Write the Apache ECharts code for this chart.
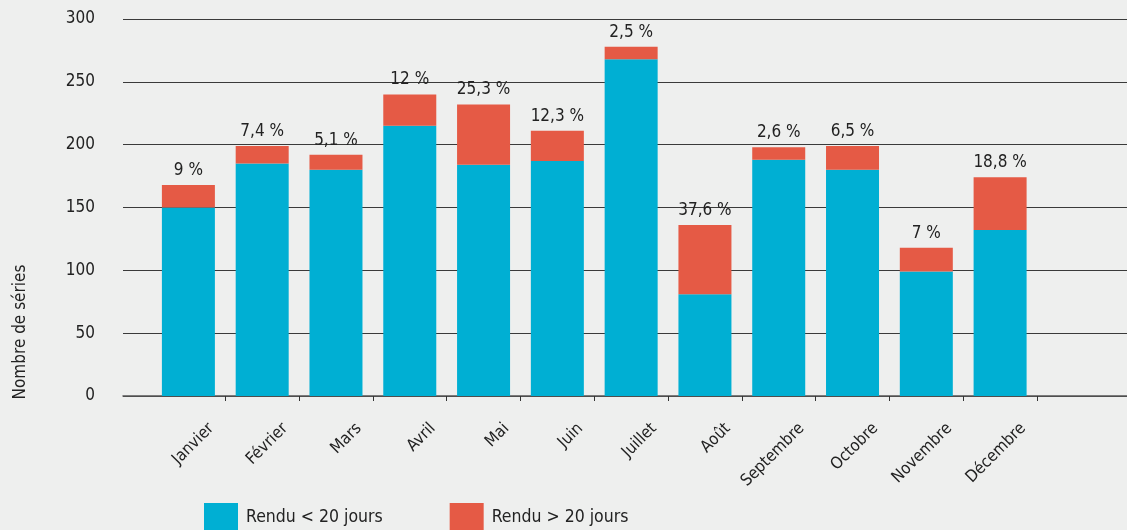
<!DOCTYPE html>
<html>
<head>
<meta charset="utf-8">
<script src="https://cdn.jsdelivr.net/npm/echarts@6/dist/echarts.min.js"></script>
<style>
  html, body { margin: 0; padding: 0; background: #eeefee; }
  #chart { width: 1127px; height: 530px; }
</style>
</head>
<body>
<div id="chart"></div>
<script>
// données
var mois = ['Janvier', 'Février', 'Mars', 'Avril', 'Mai', 'Juin', 'Juillet', 'Août', 'Septembre', 'Octobre', 'Novembre', 'Décembre'];
var renduMoins20 = [150, 185, 180, 215, 184, 187, 268, 81, 188, 180, 99, 132];
var renduPlus20 = [18, 14, 12, 25, 48, 24, 10, 55, 10, 19, 19, 42];
var partPlus20 = ['9 %', '7,4 %', '5,1 %', '12 %', '25,3 %', '12,3 %', '2,5 %', '37,6 %', '2,6 %', '6,5 %', '7 %', '18,8 %'];
var yTicks = [0, 50, 100, 150, 200, 250, 300];

var police = "'DejaVu Sans Condensed', 'Liberation Sans Narrow', sans-serif";
var texte = '#222';

var chart = echarts.init(document.getElementById('chart'));

var option = {
    backgroundColor: '#eeefee',
    animation: false,
    textStyle: { fontFamily: police, color: texte },
    // grille 0 : lignes horizontales + axe Y, grille 1 : barres, grille 2 : étiquettes des mois
    grid: [
        { left: 123, right: 0, top: 19, bottom: 134 },
        { left: 151.5, right: 90, top: 19, bottom: 134 },
        { left: 174.5, right: 67, top: 19, bottom: 134 }
    ],
    legend: {
        left: 204,
        top: 503,
        padding: 0,
        itemWidth: 34,
        itemHeight: 28,
        itemGap: 67,
        icon: 'rect',
        textStyle: { fontFamily: police, fontSize: 17.5, color: texte, padding: [0, 0, 0, 3] },
        data: ['Rendu < 20 jours', 'Rendu > 20 jours']
    },
    xAxis: [
        {
            gridIndex: 0, type: 'value', min: 0, max: 1,
            axisLine: { show: true, lineStyle: { color: '#555', width: 1.5 } },
            axisTick: { show: false }, axisLabel: { show: false }, splitLine: { show: false }
        },
        {
            gridIndex: 1, type: 'category', data: mois,
            axisLine: { show: false },
            axisTick: {
                show: true, length: 5,
                interval: function (index) { return index > 0; },
                lineStyle: { color: '#333', width: 1 }
            },
            axisLabel: { show: false }
        },
        {
            gridIndex: 2, type: 'category', data: mois,
            axisLine: { show: false }, axisTick: { show: false },
            axisLabel: {
                interval: 0, rotate: 45, margin: 30,
                fontFamily: police, fontSize: 16.5, color: texte
            }
        }
    ],
    yAxis: [
        {
            gridIndex: 0, type: 'value', min: 0, max: 300, interval: 50,
            axisLine: { show: false }, axisTick: { show: false },
            axisLabel: {
                margin: 28, fontFamily: police, fontSize: 17, color: texte,
                customValues: yTicks
            },
            splitLine: { lineStyle: { color: '#3a3a3a', width: 1 } }
        },
        { gridIndex: 1, type: 'value', min: 0, max: 300, show: false },
        { gridIndex: 2, type: 'value', min: 0, max: 300, show: false }
    ],
    graphic: [
        {
            type: 'text',
            x: 21, y: 332,
            rotation: Math.PI / 2,
            style: {
                text: 'Nombre de séries',
                fontFamily: police, fontSize: 17, fill: texte,
                align: 'center', verticalAlign: 'middle'
            }
        }
    ],
    series: [
        {
            name: 'Rendu < 20 jours',
            type: 'bar', stack: 'total',
            xAxisIndex: 1, yAxisIndex: 1,
            barWidth: 53,
            itemStyle: { color: '#00afd3' },
            data: renduMoins20
        },
        {
            name: 'Rendu > 20 jours',
            type: 'bar', stack: 'total',
            xAxisIndex: 1, yAxisIndex: 1,
            barWidth: 53,
            itemStyle: { color: '#e55a45' },
            label: {
                show: true, position: 'top', distance: 6,
                fontFamily: police, fontSize: 17, color: texte,
                formatter: function (p) { return partPlus20[p.dataIndex]; }
            },
            data: renduPlus20
        }
    ]
};

chart.setOption(option);
</script>
</body>
</html>
